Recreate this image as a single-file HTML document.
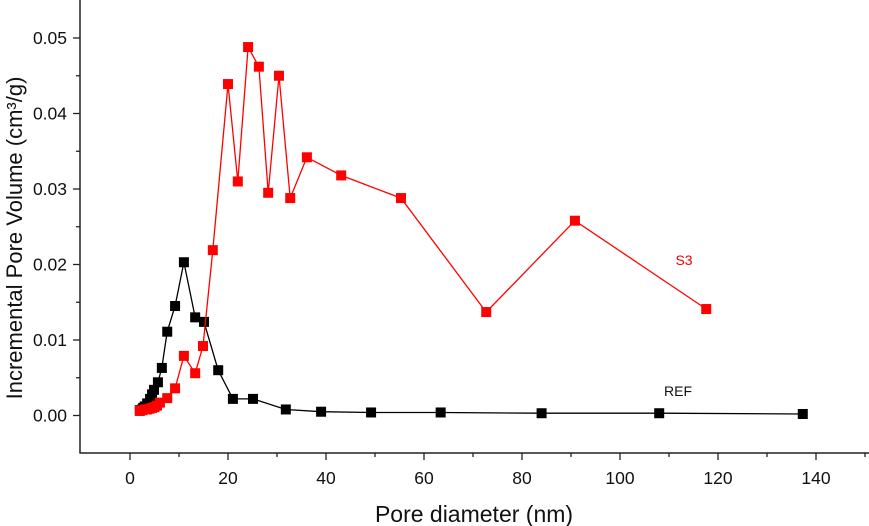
<!DOCTYPE html>
<html><head><meta charset="utf-8"><style>
body{margin:0;background:#fff}
svg{display:block;font-family:"Liberation Sans",Arial,sans-serif}
</style></head><body>
<svg id="chart" width="869" height="526" viewBox="0 0 869 526" xmlns="http://www.w3.org/2000/svg">
<g id="axes"></g>
<g id="series"></g>
<text x="474" y="522" font-size="23" text-anchor="middle" fill="#111">Pore diameter (nm)</text>
<text transform="translate(22,238) rotate(-90)" font-size="22" text-anchor="middle" fill="#111">Incremental Pore Volume (cm³/g)</text>
<text x="684" y="265" font-size="14" text-anchor="middle" fill="#e00">S3</text>
<text x="678" y="396" font-size="14" text-anchor="middle" fill="#111">REF</text>
</svg>
<script>
const xTicks=[0,20,40,60,80,100,120,140];
const yTicks=[0.00,0.01,0.02,0.03,0.04,0.05];
const yTickLabels=["0.00","0.01","0.02","0.03","0.04","0.05"];
const refX=[2,2.5,2.7,3,3.5,4.1,4.5,4.9,5.7,6.5,7.6,9.2,11,13.3,15.1,18,21,25.1,31.8,39,49.2,63.4,84,108,137.3];
const refY=[0.0007,0.0008,0.0010,0.0012,0.0016,0.0022,0.0028,0.0034,0.0044,0.0063,0.0111,0.0145,0.0203,0.0130,0.0124,0.0060,0.0022,0.0022,0.0008,0.0005,0.0004,0.0004,0.0003,0.0003,0.0002];
const s3X=[2,2.5,3,3.5,4,4.5,5,5.5,6.1,7.6,9.2,11,13.3,14.9,16.9,20,22,24.1,26.3,28.2,30.4,32.7,36.1,43.1,55.3,72.7,90.8,117.6];
const s3Y=[0.0006,0.0007,0.0008,0.0008,0.0009,0.0010,0.0011,0.0013,0.0017,0.0023,0.0036,0.0079,0.0056,0.0092,0.0219,0.0439,0.0310,0.0488,0.0462,0.0295,0.0450,0.0288,0.0342,0.0318,0.0288,0.0137,0.0258,0.0141];
const NS="http://www.w3.org/2000/svg";
const sx=v=>130+v*4.9;
const sy=v=>415.5-v*7550;
const axes=document.getElementById('axes'),series=document.getElementById('series');
function mk(tag,attrs,parent){const e=document.createElementNS(NS,tag);for(const k in attrs)e.setAttribute(k,attrs[k]);parent.appendChild(e);return e;}
let e;
e=mk('line',{x1:80,y1:0,x2:80,y2:453.5,stroke:'#222','stroke-width':1.5},axes);


e=mk('line',{x1:79.5,y1:453,x2:869,y2:453,stroke:'#222','stroke-width':1.5},axes);


for(let v=-10;v<=150;v+=10){const x=sx(v);if(x<82||x>868)continue;const major=v%20===0;
 e=mk('line',{x1:x,y1:453,x2:x,y2:major?460:457,stroke:'#222','stroke-width':1.3},axes);
 
 }
xTicks.forEach(v=>{e=mk('text',{x:sx(v),y:484,'font-size':17.5,'text-anchor':'middle',fill:'#111'},axes);e.textContent=String(v);
 
 });
for(let v=-0.005;v<=0.0551;v+=0.005){const y=sy(v);if(y<1||y>452)continue;const major=Math.abs(Math.round(v*200))%2===0;
 e=mk('line',{x1:major?73:76,y1:y,x2:80,y2:y,stroke:'#222','stroke-width':1.3},axes);
 
 }
yTicks.forEach((v,i)=>{e=mk('text',{x:67,y:sy(v)+6,'font-size':17.5,'text-anchor':'end',fill:'#111'},axes);e.textContent=yTickLabels[i];
 
 });
function draw(xs,ys,color,name){
 const pts=xs.map((x,i)=>sx(x).toFixed(1)+','+sy(ys[i]).toFixed(1)).join(' ');
 e=mk('polyline',{points:pts,fill:'none',stroke:color,'stroke-width':1.3},series);
 
 
 xs.forEach((x,i)=>{e=mk('rect',{x:sx(x)-5,y:sy(ys[i])-5,width:10,height:10,fill:color},series);
  
  });
}
draw(refX,refY,'#000','ref');
draw(s3X,s3Y,'#f00','s3');
</script>
</body></html>
